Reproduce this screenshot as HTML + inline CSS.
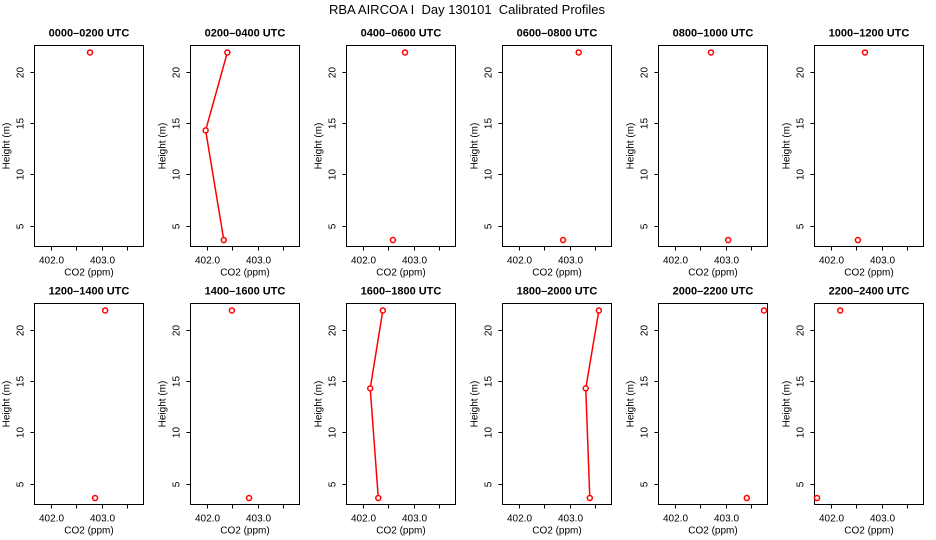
<!DOCTYPE html>
<html><head><meta charset="utf-8">
<style>
body{margin:0;background:#fff;}
svg{display:block;font-family:"Liberation Sans",sans-serif;}
text{white-space:pre;}
</style></head>
<body>
<svg id="chart" width="936" height="540" viewBox="0 0 936 540">
<text x="467" y="14" text-anchor="middle" font-size="13" xml:space="preserve">RBA AIRCOA I  Day 130101  Calibrated Profiles</text>
</svg>
<script>
const panelTitles = ["0000–0200 UTC","0200–0400 UTC","0400–0600 UTC","0600–0800 UTC","0800–1000 UTC","1000–1200 UTC","1200–1400 UTC","1400–1600 UTC","1600–1800 UTC","1800–2000 UTC","2000–2200 UTC","2200–2400 UTC"];
const heights = [21.9, 14.3, 3.6];
const co2Top = [402.77, 402.40, 402.83, 403.18, 402.71, 402.67, 403.07, 402.49, 402.39, 403.58, 403.76, 402.18];
const co2Mid = [null, 401.97, null, null, null, null, null, null, 402.14, 403.32, null, null];
const co2Bot = [null, 402.33, 402.59, 402.87, 403.05, 402.53, 402.87, 402.83, 402.30, 403.40, 403.42, 401.72];
const xTicks = [402.0, 402.5, 403.0, 403.5];
const xTickLabels = ["402.0", "", "403.0", ""];
const yTicks = [5, 10, 15, 20];

const svg = document.getElementById('chart');
const NS = 'http://www.w3.org/2000/svg';
function mk(tag, attrs, parent){const e=document.createElementNS(NS,tag);for(const k in attrs)e.setAttribute(k,attrs[k]);(parent||svg).appendChild(e);return e;}
const XMIN=401.67, XMAX=403.83, YMIN=2.97, YMAX=22.58;
for(let i=0;i<12;i++){
  const row=Math.floor(i/6), col=i%6;
  const L=34.5+156*col, R=L+109;
  const T=row?303.5:45.5, B=row?504.5:246.5;
  const sx=v=>L+(v-XMIN)/(XMAX-XMIN)*(R-L);
  const sy=v=>B-(v-YMIN)/(YMAX-YMIN)*(B-T);
  const g=mk('g',{});
  
  
  const t=mk('text',{x:(L+R)/2,y:T-9,'text-anchor':'middle','font-size':'11','font-weight':'bold'},g);
  t.textContent=panelTitles[i];
  
  
  const box=mk('rect',{x:L,y:T,width:R-L,height:B-T,fill:'none',stroke:'#000','stroke-width':1},g);
  
  
  xTicks.forEach((v,j)=>{
    const px=Math.round(sx(v))+0.5;
    mk('line',{x1:px,x2:px,y1:B,y2:B+4,stroke:'#000'},g);
    if(xTickLabels[j]){const tl=mk('text',{x:px,y:B+17,'text-anchor':'middle','font-size':'10'},g);tl.textContent=xTickLabels[j];
      
      }
  });
  const xl=mk('text',{x:(L+R)/2,y:B+29,'text-anchor':'middle','font-size':'10'},g);
  xl.textContent='CO2 (ppm)';
  
  
  yTicks.forEach(v=>{
    const py=Math.round(sy(v))+0.5;
    mk('line',{x1:L-4,x2:L,y1:py,y2:py,stroke:'#000'},g);
    const tl=mk('text',{x:L-11,y:py,'text-anchor':'middle','font-size':'10',transform:`rotate(-90 ${L-11} ${py})`},g);
    tl.textContent=String(v);
    
    
  });
  const yl=mk('text',{x:L-25,y:(T+B)/2,'text-anchor':'middle','font-size':'10',transform:`rotate(-90 ${L-25} ${(T+B)/2})`},g);
  yl.textContent='Height (m)';
  
  
  const vals=[co2Top[i],co2Mid[i],co2Bot[i]];
  for(let k=0;k<2;k++){
    if(vals[k]!=null&&vals[k+1]!=null&&co2Mid[i]!=null){
      const ln=mk('line',{x1:sx(vals[k]),y1:sy(heights[k]),x2:sx(vals[k+1]),y2:sy(heights[k+1]),stroke:'#f00','stroke-width':1.5},g);
      
      
    }
  }
  vals.forEach((v,k)=>{
    if(v==null)return;
    const c=mk('circle',{cx:sx(v),cy:sy(heights[k]),r:2.5,fill:'#fff',stroke:'#f00','stroke-width':1.5},g);
    
    
  });
}
</script>
</body></html>
